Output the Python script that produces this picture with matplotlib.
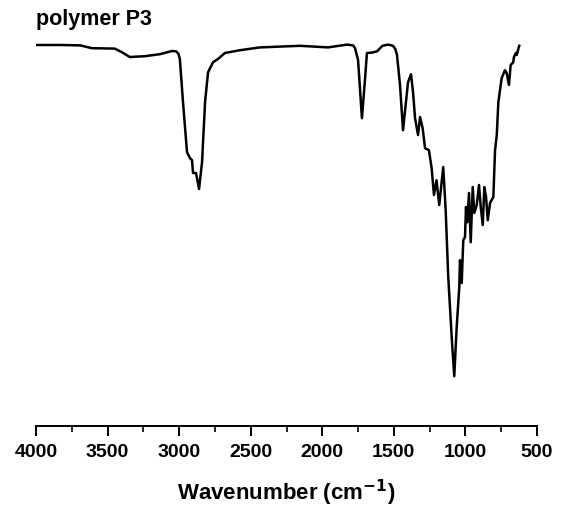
import numpy as np
import matplotlib
matplotlib.use('Agg')
import matplotlib.pyplot as plt
from matplotlib.ticker import MultipleLocator

plt.rcParams['font.family'] = ['Liberation Sans', 'DejaVu Sans']

# FTIR spectrum of polymer P3
wavenumber = [4000, 3830, 3690, 3610, 3450, 3400, 3345, 3240, 3135, 3050,
              3020, 3005, 2995, 2973, 2945, 2924, 2910, 2903, 2882, 2861, 2840,
              2819, 2798, 2763, 2729, 2680, 2575, 2435, 2156, 1960, 1827,
              1785, 1771, 1750, 1723, 1702, 1688, 1653, 1618, 1580, 1540, 1506,
              1490, 1478, 1457, 1436, 1401, 1380, 1366, 1352, 1331, 1317, 1299,
              1282, 1255, 1236, 1220, 1202, 1183, 1155, 1138, 1120, 1096, 1078,
              1061, 1043, 1038, 1026, 1015, 1003, 996, 987, 975, 963,
              949, 938, 921, 905, 893, 879, 868, 856, 844, 828,
              805, 793, 781, 770, 747, 724, 712, 696, 684, 666,
              661, 647, 642, 624]
transmittance = [100.0, 100.0, 99.9, 99.2, 99.1, 98.2, 97.0, 97.2, 97.7, 98.5,
                 98.4, 97.8, 96.5, 85.7, 73.2, 71.7, 71.2, 68.0, 68.0, 64.0, 70.7,
                 85.7, 93.2, 95.7, 96.5, 98.0, 98.7, 99.4, 99.8, 99.4, 100.1,
                 99.9, 99.2, 96.2, 81.7, 91.2, 98.0, 98.1, 98.4, 99.8, 100.1, 99.8,
                 99.0, 97.5, 90.0, 78.7, 90.7, 92.7, 88.2, 81.7, 77.5, 82.0, 79.2,
                 74.2, 73.7, 69.2, 62.5, 66.2, 60.0, 69.5, 58.7, 42.0, 27.0, 17.2,
                 29.5, 39.5, 46.2, 40.5, 51.2, 52.0, 59.5, 55.7, 63.0, 50.7,
                 64.5, 58.0, 60.0, 65.0, 59.5, 55.0, 64.5, 62.0, 56.2, 60.5,
                 62.0, 73.7, 77.5, 85.7, 91.7, 93.7, 93.0, 90.0, 95.0, 95.7,
                 97.0, 98.0, 97.5, 99.8]

fig = plt.figure(figsize=(5.61, 5.09), dpi=100)
ax = fig.add_axes([36 / 561, 83 / 509, 501 / 561, 396 / 509])

ax.plot(wavenumber, transmittance, color='black', lw=1.8, solid_joinstyle='round')

ax.set_xlim(4000, 500)
ax.set_ylim(4.75, 103.75)

for s in ['top', 'right', 'left']:
    ax.spines[s].set_visible(False)
ax.spines['bottom'].set_linewidth(1.4)
ax.set_yticks([])
ax.xaxis.set_major_locator(MultipleLocator(500))
ax.xaxis.set_minor_locator(MultipleLocator(250))
ax.tick_params(axis='x', which='major', direction='out', length=7, width=1.4,
               labelsize=14, pad=6)
ax.tick_params(axis='x', which='minor', direction='out', length=4, width=1.2)
for lab in ax.get_xticklabels():
    lab.set_fontweight('bold')

ax.set_xlabel('Wavenumber (cm$^{\\mathbf{-1}}$)', fontsize=16, fontweight='bold',
              labelpad=12)
fig.text(36 / 561, 1 - 20 / 509, 'polymer P3', fontsize=15.5, fontweight='bold',
         ha='left', va='center')

fig.savefig('out.png', dpi=100)
